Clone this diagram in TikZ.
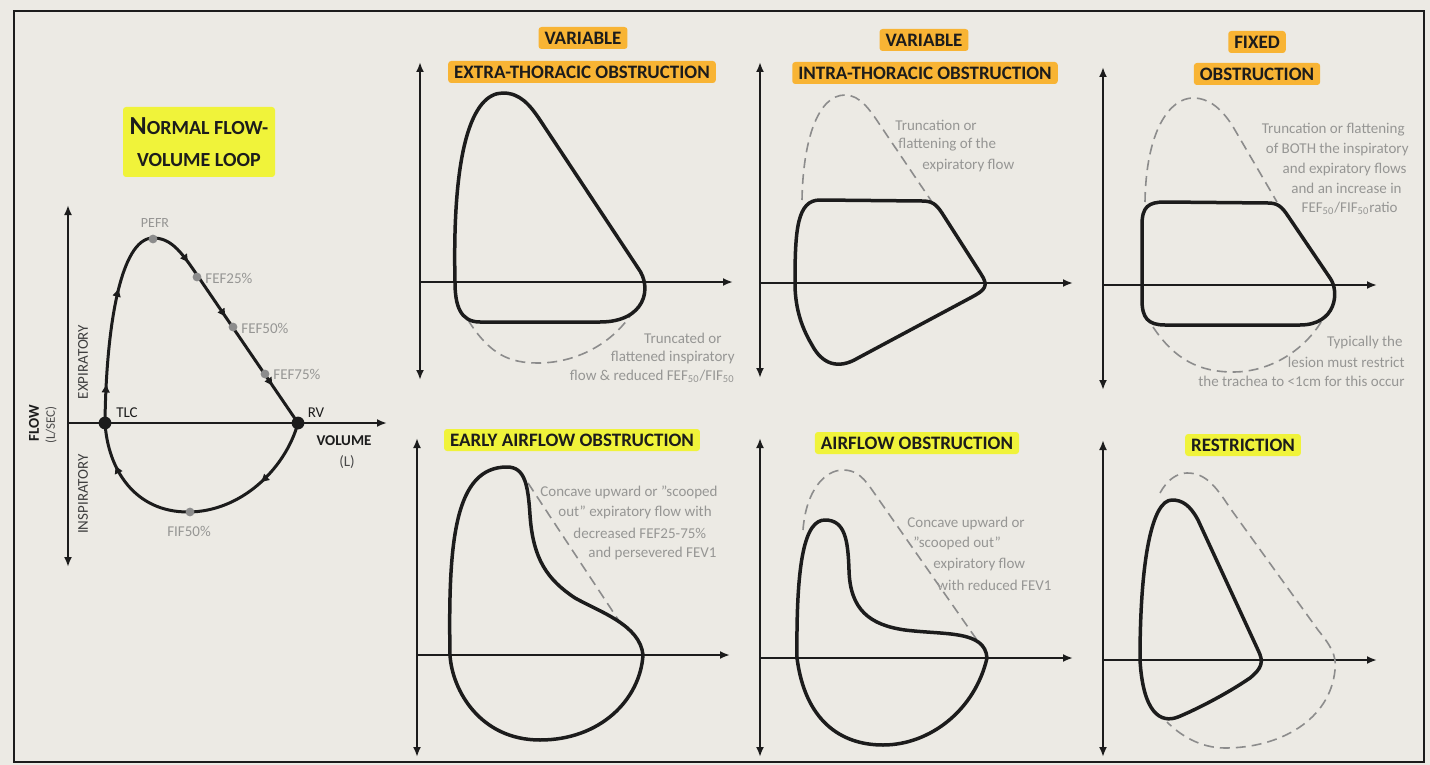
\documentclass[tikz,border=0pt]{standalone}
\usepackage{fontspec}
\setmainfont{Carlito}
\usepackage{tikz}
\usetikzlibrary{arrows.meta,decorations.markings}

\definecolor{paper}{RGB}{236,234,228}
\definecolor{ink}{RGB}{28,28,28}
\definecolor{notegray}{RGB}{150,150,148}
\definecolor{dashgray}{RGB}{140,140,140}
\definecolor{hlyellow}{RGB}{240,243,58}
\definecolor{hlorange}{RGB}{248,180,52}
\newcommand{\notefont}{\fontsize{7.5}{9}\selectfont}
\newcommand{\headfont}{\fontsize{9.5}{11}\selectfont\bfseries}
\newcommand{\labfont}{\fontsize{7.5}{9}\selectfont}

\begin{document}
\begin{tikzpicture}[x=0.5pt,y=-0.5pt,
  axisline/.style={line width=1.3pt,draw=ink,-{Latex[length=5pt,width=4pt]}},
  vaxis/.style={line width=1.3pt,draw=ink,{Latex[length=5pt,width=4pt]}-{Latex[length=5pt,width=4pt]}},
  loopline/.style={line width=1.75pt,draw=ink,line join=round},
  ghostline/.style={line width=0.8pt,draw=dashgray,dash pattern=on 5pt off 3pt},
  note/.style={text=notegray,font=\notefont,inner sep=0pt},
  lab/.style={text=ink,font=\labfont,inner sep=0pt},
  orangebox/.style={fill=hlorange,text=ink,font=\headfont,inner xsep=3pt,inner ysep=0pt,minimum height=11pt,rounded corners=1.5pt},
  yellowbox/.style={orangebox,fill=hlyellow}]
\fill[paper] (0,0) rectangle (1430,765);
\useasboundingbox (0,0) rectangle (1430,765);
\draw[ink,line width=1.2pt] (14,11) rectangle (1424,762);

% normal loop
\node[yellowbox,align=center,font=\fontsize{10}{16}\selectfont\bfseries,minimum width=76pt,minimum height=35pt] (normtitle) at (199,142) {{\fontsize{13}{16}\selectfont N}ORMAL FLOW-\\VOLUME LOOP};
\coordinate (tlc) at (105,423);
\coordinate (rv) at (298,423);
\draw[vaxis] (68,205) -- (68,567);
\draw[axisline] (68,423) -- (387,423);
\draw[loopline,line width=1.5pt,postaction={decorate},decoration={markings,
  mark=at position 0.09 with {\arrow{Latex[length=4.5pt,width=4.5pt]}},
  mark=at position 0.31 with {\arrow{Latex[length=4.5pt,width=4.5pt]}},
  mark=at position 0.56 with {\arrow{Latex[length=4.5pt,width=4.5pt]}},
  mark=at position 0.71 with {\arrow{Latex[length=4.5pt,width=4.5pt]}},
  mark=at position 0.90 with {\arrow{Latex[length=4.5pt,width=4.5pt]}}}]
  (tlc) .. controls (106,330) and (120,238) .. (153,238) .. controls (170,238) and (180,250) .. (195,272) -- (rv);
\draw[loopline,line width=1.5pt,postaction={decorate},decoration={markings,
  mark=at position 0.25 with {\arrow{Latex[length=4.5pt,width=4.5pt]}},
  mark=at position 0.85 with {\arrow{Latex[length=4.5pt,width=4.5pt]}}}]
  (rv) .. controls (285,470) and (240,512) .. (188,512) .. controls (135,512) and (108,470) .. (tlc);
\fill[ink] (tlc) circle (3.2pt);
\fill[ink] (rv) circle (3.2pt);
\fill[dashgray] (153,239) circle (2.2pt);
\fill[dashgray] (197,277) circle (2.2pt);
\fill[dashgray] (233,327) circle (2.2pt);
\fill[dashgray] (265,374) circle (2.2pt);
\fill[dashgray] (190,512) circle (2.2pt);
\node[note,font=\fontsize{7}{8}\selectfont] (pefr) at (155,223) {PEFR};
\node[note,font=\labfont,anchor=west] (fef25) at (205,278) {FEF25\%};
\node[note,font=\labfont,anchor=west] (fef50) at (241,328) {FEF50\%};
\node[note,font=\labfont,anchor=west] (fef75) at (273,374) {FEF75\%};
\node[note,font=\labfont] (fif50) at (189,531) {FIF50\%};
\node[lab] (tlclab) at (127,413) {TLC};
\node[lab] (rvlab) at (316,413) {RV};
\node[lab,font=\labfont\bfseries] (vollab) at (344,441) {VOLUME};
\node[lab,text=ink!80] (volunit) at (347,462) {(L)};
\node[lab,font=\labfont\bfseries,rotate=90] (flowlab) at (34,423) {FLOW};
\node[lab,text=ink!80,font=\fontsize{6.5}{8}\selectfont,rotate=90] (flowunit) at (51,425) {(L/SEC)};
\node[lab,text=ink!85,rotate=90] (explab) at (83,362) {EXPIRATORY};
\node[lab,text=ink!85,rotate=90] (insplab) at (83,494) {INSPIRATORY};

% variable extra-thoracic
\node[orangebox] (vet1) at (583,38) {VARIABLE};
\node[orangebox] (vet2) at (582,72) {EXTRA-THORACIC OBSTRUCTION};
\draw[vaxis] (420,62) -- (420,380);
\draw[axisline] (420,282) -- (733,282);
\draw[ghostline] (468,320) .. controls (490,355) and (510,363) .. (538,363) .. controls (580,363) and (615,340) .. (632,313);
\draw[loopline] (455,282) .. controls (452,150) and (472,93) .. (503,93) .. controls (520,93) and (530,105) .. (540,120) -- (638,268) .. controls (653,288) and (645,322) .. (600,322) -- (480,322) .. controls (460,322) and (455,305) .. cycle;
\node[note,anchor=east] (ext1) at (722,338) {Truncated or};
\node[note,anchor=east] (ext2) at (735,357) {flattened inspiratory};
\node[note,anchor=east] (ext3) at (735,376) {flow \& reduced FEF\textsubscript{50}/FIF\textsubscript{50}};

% variable intra-thoracic
\node[orangebox] (vit1) at (924,40) {VARIABLE};
\node[orangebox] (vit2) at (925,73) {INTRA-THORACIC OBSTRUCTION};
\draw[vaxis] (760,62) -- (760,378);
\draw[axisline] (760,283) -- (1073,283);
\draw[ghostline] (802,200) .. controls (803,140) and (818,95) .. (845,95) .. controls (860,95) and (870,110) .. (880,125) -- (932,202);
\draw[loopline] (795,283) .. controls (795,230) and (797,200) .. (820,200) -- (922,201) .. controls (932,201) and (936,204) .. (942,213) -- (981,274) .. controls (989,286) and (985,290) .. (972,297) -- (858,358) .. controls (838,370) and (822,364) .. (812,345) .. controls (800,325) and (795,305) .. cycle;
\node[note,anchor=west] (int1) at (895,125) {Truncation or};
\node[note,anchor=west] (int2) at (898,145) {flattening of the};
\node[note,anchor=west] (int3) at (922,166) {expiratory flow};

% fixed
\node[orangebox] (fx1) at (1257,42) {FIXED};
\node[orangebox] (fx2) at (1257,74) {OBSTRUCTION};
\draw[vaxis] (1103,67) -- (1103,390);
\draw[axisline] (1103,285) -- (1377,285);
\draw[ghostline] (1145,202) .. controls (1146,130) and (1170,98) .. (1193,98) .. controls (1210,98) and (1222,110) .. (1232,125) -- (1277,202);
\draw[ghostline] (1153,327) .. controls (1175,360) and (1200,372) .. (1233,372) .. controls (1275,372) and (1310,345) .. (1325,315);
\draw[loopline] (1142,285) -- (1142,225) .. controls (1142,207) and (1148,202) .. (1165,202) -- (1268,203) .. controls (1278,203) and (1282,207) .. (1288,216) -- (1330,278) .. controls (1340,292) and (1336,325) .. (1300,325) -- (1165,325) .. controls (1148,325) and (1142,318) .. (1142,300) -- cycle;
\node[note,anchor=east] (fix1) at (1405,130) {Truncation or flattening};
\node[note,anchor=east] (fix2) at (1409,150) {of BOTH the inspiratory};
\node[note,anchor=east] (fix3) at (1407,170) {and expiratory flows};
\node[note,anchor=east] (fix4) at (1402,188) {and an increase in};
\node[note,anchor=east] (fix5) at (1398,208) {FEF\textsubscript{50}/FIF\textsubscript{50}ratio};
\node[note,anchor=east] (fix6) at (1403,342) {Typically the};
\node[note,anchor=east] (fix7) at (1405,362) {lesion must restrict};
\node[note,anchor=east] (fix8) at (1405,381) {the trachea to <1cm for this occur};

% early airflow obstruction
\node[yellowbox] (eao) at (572,440) {EARLY AIRFLOW OBSTRUCTION};
\draw[vaxis] (417,438) -- (417,757);
\draw[axisline] (417,655) -- (730,655);
\draw[ghostline] (528,483) -- (623,627);
\draw[loopline] (450,655) .. controls (448,540) and (455,467) .. (507,467) .. controls (525,467) and (528,485) .. (530,515) .. controls (533,560) and (548,580) .. (575,598) .. controls (600,612) and (640,625) .. (643,655) .. controls (640,700) and (600,740) .. (540,740) .. controls (480,740) and (452,690) .. cycle;
\node[note,anchor=west] (early1) at (540,492) {Concave upward or "scooped};
\node[note,anchor=west] (early2) at (558,512) {out" expiratory flow with};
\node[note,anchor=west] (early3) at (573,533) {decreased FEF25-75\%};
\node[note,anchor=west] (early4) at (588,553) {and persevered FEV1};

% airflow obstruction
\node[yellowbox] (ao) at (917,443) {AIRFLOW OBSTRUCTION};
\draw[vaxis] (760,438) -- (760,757);
\draw[axisline] (760,658) -- (1073,658);
\draw[ghostline] (803,530) .. controls (806,490) and (825,470) .. (843,470) .. controls (855,470) and (862,476) .. (870,487) -- (977,640);
\draw[loopline] (797,658) .. controls (796,560) and (805,520) .. (825,520) .. controls (845,520) and (848,540) .. (849,570) .. controls (850,610) and (870,625) .. (905,630) .. controls (945,635) and (985,630) .. (987,658) .. controls (975,710) and (930,745) .. (883,745) .. controls (840,745) and (805,720) .. cycle;
\node[note,anchor=west] (obs1) at (907,523) {Concave upward or};
\node[note,anchor=west] (obs2) at (913,543) {"scooped out"};
\node[note,anchor=west] (obs3) at (933,565) {expiratory flow};
\node[note,anchor=west] (obs4) at (937,585) {with reduced FEV1};

% restriction
\node[yellowbox] (rst) at (1243,445) {RESTRICTION};
\draw[vaxis] (1103,440) -- (1103,757);
\draw[axisline] (1103,660) -- (1377,660);
\draw[ghostline] (1160,493) .. controls (1167,480) and (1177,473) .. (1187,473) .. controls (1205,473) and (1215,485) .. (1230,508) -- (1318,630) .. controls (1330,645) and (1337,655) .. (1335,670) .. controls (1330,720) and (1280,748) .. (1225,748) .. controls (1200,748) and (1180,735) .. (1167,722);
\draw[loopline] (1140,660) .. controls (1140,560) and (1152,500) .. (1172,500) .. controls (1182,500) and (1190,505) .. (1198,520) -- (1258,650) .. controls (1264,662) and (1262,668) .. (1250,678) .. controls (1225,695) and (1195,710) .. (1178,717) .. controls (1160,724) and (1143,712) .. cycle;
\end{tikzpicture}
\end{document}
